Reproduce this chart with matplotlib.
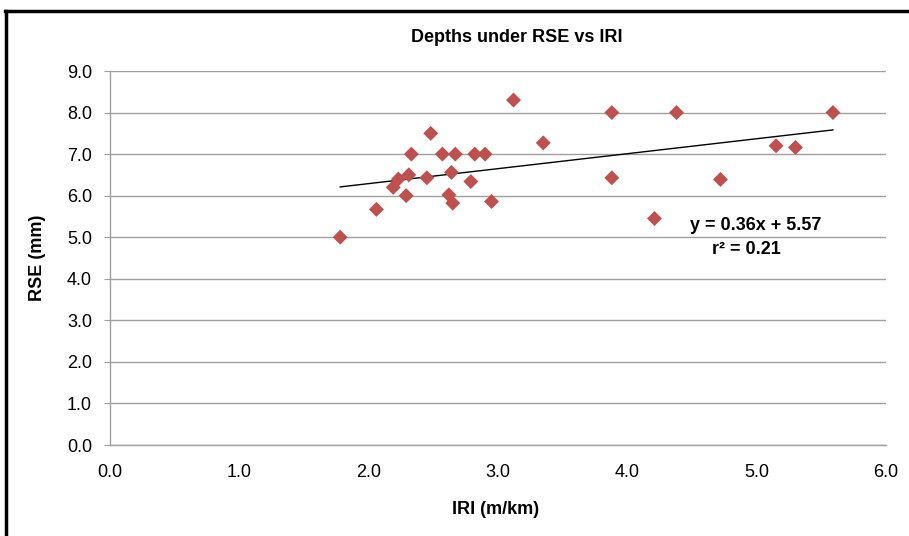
#Scatter of RSE depth vs IRI with linear trend
import numpy as np
import matplotlib
matplotlib.use("Agg")
import matplotlib.pyplot as plt
from matplotlib.lines import Line2D

plt.rcParams['font.family'] = ['Liberation Sans', 'DejaVu Sans']

# data
iri = [1.78, 2.06, 2.19, 2.23, 2.29, 2.31, 2.33, 2.48, 2.45, 2.57,
       2.64, 2.62, 2.65, 2.67, 2.79, 2.82, 2.90, 2.95, 3.12, 3.35,
       3.88, 3.88, 4.21, 4.38, 4.72, 5.15, 5.30, 5.59]
rse = [5.00, 5.67, 6.20, 6.40, 6.00, 6.50, 7.00, 7.50, 6.43, 7.00,
       6.56, 6.02, 5.82, 7.00, 6.34, 7.00, 7.00, 5.86, 8.30, 7.27,
       8.00, 6.43, 5.45, 8.00, 6.39, 7.20, 7.16, 8.00]
slope = 0.36
intercept = 5.57
r2 = 0.21
x_ticks = np.arange(0, 6.0 + 1, 1.0)
y_ticks = np.arange(0, 9.0 + 1, 1.0)

title = "Depths under RSE vs IRI"
x_label = "IRI (m/km)"
y_label = "RSE (mm)"

W, H = 909, 536
fig = plt.figure(figsize=(W/100, H/100), dpi=100)
ax = fig.add_axes([110/W, 1-445/H, 776/W, 374/H])

grid_c = '#a0a0a0'
ax.set_xlim(x_ticks[0], x_ticks[-1])
ax.set_ylim(y_ticks[0], y_ticks[-1])
ax.set_xticks(x_ticks)
ax.set_yticks(y_ticks)
ax.set_xticklabels([f"{v:.1f}" for v in x_ticks])
ax.set_yticklabels([f"{v:.1f}" for v in y_ticks])
ax.yaxis.grid(True, color=grid_c, lw=1)
ax.set_axisbelow(True)
for s in ['top', 'right']:
    ax.spines[s].set_visible(False)
for s in ['left', 'bottom']:
    ax.spines[s].set_color(grid_c)
    ax.spines[s].set_linewidth(1)
ax.tick_params(axis='y', length=4, color=grid_c, pad=9, labelsize=13)
ax.tick_params(axis='x', length=0, pad=14, labelsize=13)

# trend line
xl = np.array([min(iri), max(iri)])
ax.plot(xl, slope*xl + intercept, color='black', lw=1, zorder=2)
ax.scatter(iri, rse, marker='D', s=58, color='#C0504D', edgecolors='none', zorder=3)

ax.text(0.8325, 0.588, f"y = {slope:.2f}x + {intercept:.2f}", transform=ax.transAxes,
        ha='center', va='center', fontsize=13, fontweight='bold')
ax.text(0.82, 0.522, f"r² = {r2:.2f}", transform=ax.transAxes,
        ha='center', va='center', fontsize=13, fontweight='bold')

fig.text(517/W, 1-38/H, title, ha='center', va='center', fontsize=13, fontweight='bold')
fig.text(496/W, 1-510/H, x_label, ha='center', va='center', fontsize=13, fontweight='bold')
fig.text(38/W, 1-258/H, y_label, ha='center', va='center', rotation=90, fontsize=13, fontweight='bold')

# outer frame (cut off at right and bottom in the reference)
fig.add_artist(Line2D([5.5/W, 5.5/W], [0, 1-10.5/H], color='black', lw=2.5, transform=fig.transFigure))
fig.add_artist(Line2D([4.5/W, 1], [1-10.5/H, 1-10.5/H], color='black', lw=2.5, transform=fig.transFigure))

plt.savefig("out.png", dpi=100)
